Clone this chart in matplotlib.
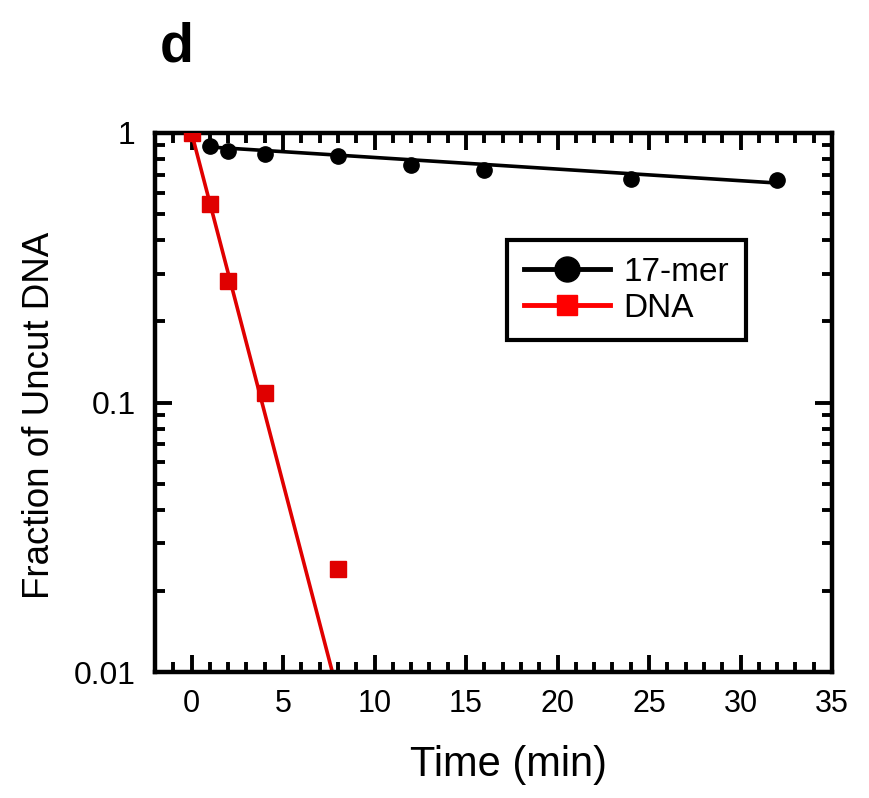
import numpy as np
import matplotlib
matplotlib.use("Agg")
import matplotlib.pyplot as plt
from matplotlib.ticker import FixedLocator, LogLocator, NullFormatter, MultipleLocator

plt.rcParams['font.family'] = ['Liberation Sans', 'DejaVu Sans']

# Data
t_17mer = [1, 2, 4, 8, 12, 16, 24, 32]
f_17mer = [0.895, 0.857, 0.836, 0.822, 0.761, 0.729, 0.675, 0.669]
t_dna = [0, 1, 2, 4, 8]
f_dna = [1.0, 0.545, 0.282, 0.108, 0.0241]

# Fit parameters (single-exponential fits): f = A * 10**(-s * t)
fit_17mer_A, fit_17mer_s, fit_17mer_range = 0.896, 0.00431, (1, 32)
fit_dna_A, fit_dna_s, fit_dna_range = 1.0, 0.26, (0, 8)

x_ticks = [0, 5, 10, 15, 20, 25, 30, 35]
y_ticks = [0.01, 0.1, 1]
y_ticklabels = ["0.01", "0.1", "1"]

fig = plt.figure(figsize=(8.70, 7.98), dpi=100)
ax = fig.add_axes([155/870, 1-672/798, (832-155)/870, (672-133)/798])

tt = np.linspace(*fit_17mer_range, 100)
ax.plot(tt, fit_17mer_A * 10**(-fit_17mer_s*tt), color='black', lw=2.6, zorder=2)
td = np.linspace(*fit_dna_range, 100)
ax.plot(td, fit_dna_A * 10**(-fit_dna_s*td), color='#e00000', lw=2.6, zorder=2)

ax.plot(t_17mer, f_17mer, 'o', color='black', ms=11, zorder=3)
ax.plot(t_dna, f_dna, 's', color='#e00000', ms=11, zorder=3)

# legend proxies
h1, = ax.plot([], [], '-o', color='black', lw=3.5, ms=18, label='17-mer')
h2, = ax.plot([], [], '-s', color='#ff0000', lw=3.5, ms=14, label='DNA')
leg = ax.legend(handles=[h1, h2], loc='upper left', bbox_to_anchor=((507-155)/677, (672-240)/539),
                frameon=True, fancybox=False, edgecolor='black', fontsize=24,
                handlelength=2.6, handletextpad=0.4, borderpad=0.5, labelspacing=0.15,
                borderaxespad=0)
leg.get_frame().set_linewidth(3)
leg.get_frame().set_alpha(1)

ax.set_yscale('log')
ax.set_xlim(-2, 35)
ax.set_ylim(0.01, 1)
ax.xaxis.set_major_locator(FixedLocator(x_ticks))
ax.xaxis.set_minor_locator(MultipleLocator(1))
ax.yaxis.set_major_locator(FixedLocator(y_ticks))
ax.set_yticklabels(y_ticklabels)
ax.yaxis.set_minor_locator(LogLocator(base=10, subs=np.arange(2, 10)))
ax.yaxis.set_minor_formatter(NullFormatter())

for s in ax.spines.values():
    s.set_linewidth(3.2)
ax.tick_params(which='both', direction='in', top=True, right=True, width=2.8, labelsize=22)
ax.tick_params(axis='y', pad=14, labelsize=23)
ax.tick_params(axis='x', pad=12)
ax.tick_params(which='major', length=12)
ax.tick_params(which='minor', length=7)

ax.set_xlabel('Time (min)', fontsize=30)
ax.xaxis.label.set_verticalalignment('center')
ax.xaxis.set_label_coords((508-155)/677, (672-765)/539)
ax.set_ylabel('Fraction of Uncut DNA', fontsize=26.5)
ax.yaxis.label.set_verticalalignment('center')
ax.yaxis.set_label_coords((40-155)/677, (672-415)/539)

fig.text(160/870, 1-62/798, 'd', fontsize=40, fontweight='bold', ha='left', va='baseline')

fig.savefig('out.png', dpi=100)
